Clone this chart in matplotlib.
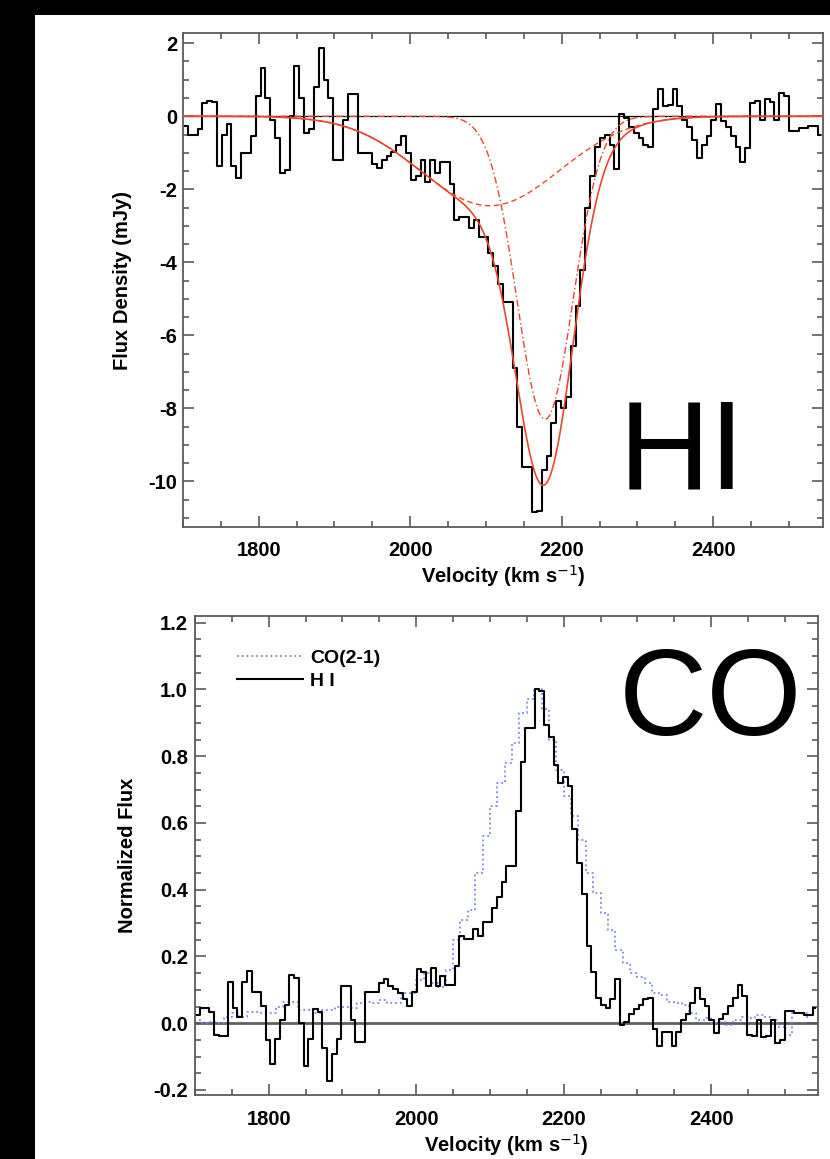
import numpy as np
import matplotlib
matplotlib.use("Agg")
import matplotlib.pyplot as plt
from matplotlib.patches import Rectangle
from matplotlib.ticker import MultipleLocator, FormatStrFormatter

# ---------------- data ----------------
# HI absorption spectrum (mJy); channel centres (km/s), 6.4 km/s channels
hi_vel = np.arange(1703.2, 2545.0, 6.4)
hi_flux = [-0.28, -0.5, -0.5, -0.35, 0.37, 0.43, 0.4, -1.35, -0.5, -0.2,
           -1.35, -1.7, -1.0, -1.0, -0.55, 0.55, 1.33, 0.5, -0.1, -0.6,
           -1.56, -1.47, 0.0, 1.38, 0.5, -0.45, -0.35, 0.8, 1.88, 1.0,
           0.5, -1.2, -1.2, -0.1, 0.62, 0.62, -1.0, -1.0, -1.0, -1.3,
           -1.43, -1.2, -1.1, -0.97, -0.8, -0.55, -1.0, -1.75, -1.65, -1.2,
           -1.8, -1.2, -1.55, -1.25, -1.25, -1.85, -2.85, -2.75, -2.75, -3.05,
           -2.85, -3.3, -3.3, -3.75, -4.1, -4.6, -5.1, -5.1, -6.9, -8.5,
           -9.6, -9.6, -10.85, -10.8, -9.7, -9.3, -8.4, -7.8, -8.0, -7.7,
           -6.3, -5.2, -4.2, -2.5, -1.65, -0.83, -0.6, -0.5, -0.8, -1.45,
           0.05, -0.05, -0.3, -0.45, -0.6, -0.8, -0.83, 0.2, 0.75, 0.28,
           0.3, 0.75, 0.28, -0.1, -0.3, -0.65, -1.15, -0.78, -0.55, -0.1,
           0.33, -0.14, -0.3, -0.55, -0.83, -1.24, -0.87, 0.37, 0.41, -0.1,
           0.46, 0.4, -0.1, 0.64, 0.55, -0.41, -0.41, -0.32, -0.32, -0.28,
           -0.28, -0.5]

# Two-Gaussian fit components: amplitude (mJy), centre, sigma (km/s)
fit_amp = [-2.45, -8.3]
fit_cen = [2105.0, 2178.0]
fit_sig = [92.0, 37.0]

# CO(2-1) normalised profile; channel centres (km/s), 10 km/s channels
co_vel = np.arange(1705, 2540, 10)
co_flux = [0.01, 0.0, 0.005, 0.0, 0.02, 0.03, 0.02, 0.035, 0.035, 0.03,
           0.03, 0.05, 0.065, 0.065, 0.04, 0.04, 0.03, 0.04, 0.04, 0.05,
           0.05, 0.045, 0.06, 0.065, 0.06, 0.07, 0.06, 0.06, 0.09, 0.09,
           0.13, 0.15, 0.12, 0.11, 0.16, 0.25, 0.31, 0.34, 0.45, 0.56,
           0.65, 0.72, 0.78, 0.84, 0.93, 0.97, 1.0, 0.94, 0.85, 0.76,
           0.68, 0.62, 0.55, 0.45, 0.39, 0.33, 0.28, 0.22, 0.18, 0.15,
           0.14, 0.12, 0.09, 0.085, 0.065, 0.06, 0.055, 0.03, 0.01, 0.015,
           0.0, 0.005, -0.005, 0.01, 0.02, 0.015, 0.025, 0.02, 0.01, -0.01,
           -0.035, 0.03, 0.03, 0.02]

# ---------------- figure ----------------
plt.rcParams['font.family'] = ['Liberation Sans', 'DejaVu Sans']
plt.rcParams['axes.unicode_minus'] = False
plt.rcParams['mathtext.default'] = 'bf'

W, H = 830, 1159
fig = plt.figure(figsize=(W / 100, H / 100), dpi=100, facecolor='black')
fig.patches.append(Rectangle((35 / W, 0), 1 - 35 / W, 1 - 15 / H,
                             transform=fig.transFigure, facecolor='white',
                             edgecolor='none', zorder=-10))


def px_axes(l, r, t, b):
    return fig.add_axes([l / W, 1 - b / H, (r - l) / W, (b - t) / H])


def style(ax, xpad, ypad):
    for s in ax.spines.values():
        s.set_color('#5a5a5a')
        s.set_linewidth(1.3)
    ax.tick_params(which='both', direction='in', top=True, right=True,
                   color='#5a5a5a', width=1.2, labelsize=14.5)
    ax.tick_params(which='major', length=8)
    ax.tick_params(which='minor', length=4)
    ax.tick_params(axis='x', pad=xpad)
    ax.tick_params(axis='y', pad=ypad)
    ax.xaxis.set_major_locator(MultipleLocator(200))
    ax.xaxis.set_minor_locator(MultipleLocator(50))
    for lab in ax.get_xticklabels() + ax.get_yticklabels():
        lab.set_fontweight('bold')


red = '#e5472f'
hi_flux = np.asarray(hi_flux)
v = np.linspace(1700, 2545, 1500)
comps = [a * np.exp(-0.5 * ((v - c) / s) ** 2) for a, c, s in zip(fit_amp, fit_cen, fit_sig)]
xlabel = 'Velocity (km s$^{\\mathsf{-1}}$)'

# ---- top panel ----
ax1 = px_axes(183, 823, 33, 527)
ax1.axhline(0, color='black', lw=0.9, zorder=1)
ax1.step(hi_vel, hi_flux, where='mid', color='black', lw=1.5, zorder=3)
ax1.plot(v, comps[0], color=red, lw=1.0, ls=(0, (4, 2.5)), zorder=4)
ax1.plot(v, comps[1], color=red, lw=1.0, ls=(0, (5, 2, 1, 2)), zorder=4)
ax1.plot(v, comps[0] + comps[1], color=red, lw=1.2, zorder=4)
ax1.set_xlim(1700, 2545)
ax1.set_ylim(-11.25, 2.28)
ax1.yaxis.set_major_locator(MultipleLocator(2))
ax1.yaxis.set_minor_locator(MultipleLocator(0.5))
style(ax1, 10, 4)
ax1.set_xlabel(xlabel, fontsize=14.5, fontweight='bold', labelpad=2)
ax1.set_ylabel('Flux Density (mJy)', fontsize=14.5, fontweight='bold', labelpad=12)
ax1.text(0.68, 0.077, 'HI', transform=ax1.transAxes, fontsize=91,
         fontweight='normal', ha='left', va='baseline', color='black')

# ---- bottom panel ----
ax2 = px_axes(195, 818, 616, 1095)
hi_norm = -hi_flux / np.abs(hi_flux.min())
ax2.axhline(0, color='#606060', lw=2.0, zorder=1)
ax2.step(co_vel, co_flux, where='mid', color='#7388e8', lw=1.3, ls=':', zorder=2,
         label='CO(2-1)')
ax2.step(hi_vel, hi_norm, where='mid', color='black', lw=1.5, zorder=3, label='H I')
ax2.set_xlim(1700, 2545)
ax2.set_ylim(-0.215, 1.22)
ax2.yaxis.set_major_locator(MultipleLocator(0.2))
ax2.yaxis.set_minor_locator(MultipleLocator(0.05))
ax2.yaxis.set_major_formatter(FormatStrFormatter('%.1f'))
style(ax2, 11, 5)
ax2.set_xlabel(xlabel, fontsize=14.5, fontweight='bold', labelpad=2)
ax2.set_ylabel('Normalized Flux', fontsize=14.5, fontweight='bold', labelpad=12)
ax2.legend(loc='upper left', bbox_to_anchor=(0.067, 0.931), frameon=False,
           prop={'weight': 'bold', 'size': 14}, handlelength=3.4,
           handletextpad=0.36, labelspacing=0.3, borderaxespad=0, borderpad=0)
ax2.text(0.6806, 0.7516, 'CO', transform=ax2.transAxes, fontsize=88,
         fontweight='normal', ha='left', va='baseline', color='black')

fig.savefig('out.png', dpi=100, facecolor=fig.get_facecolor())
